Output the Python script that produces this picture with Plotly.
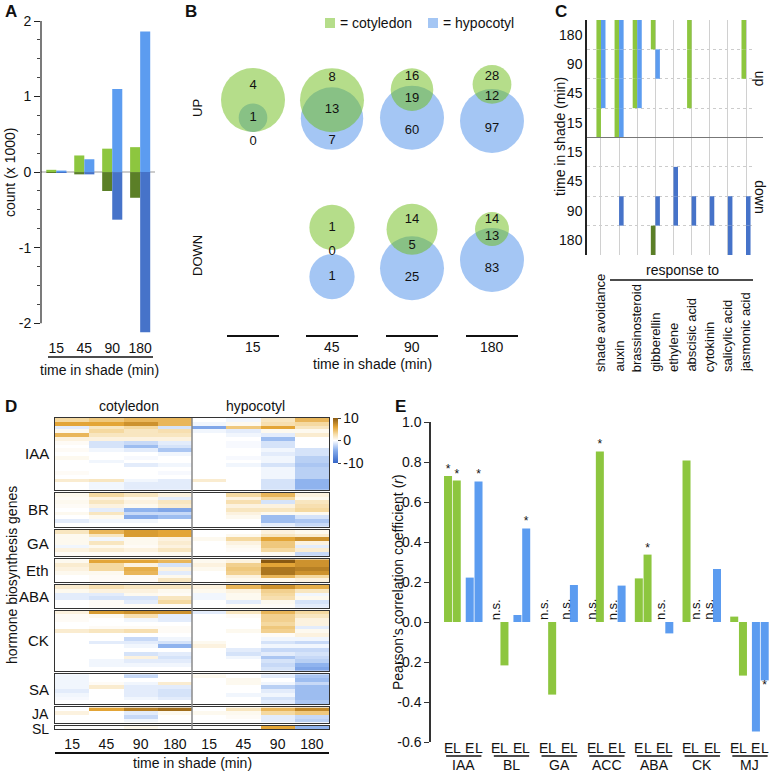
import math
import plotly.graph_objects as go

W, H = 770, 772
FONT = "Liberation Sans, Arial, Helvetica, sans-serif"

GREEN = "#8dc63f"
BLUE = "#5c9cf0"
DGREEN = "#5b7f27"
DBLUE = "#4673c9"

# ---- A: differentially expressed genes (x 1000)
a_times = ["15", "45", "90", "180"]
a_cot_up = [0.03, 0.22, 0.31, 0.33]
a_hyp_up = [0.02, 0.17, 1.10, 1.86]
a_cot_down = [-0.01, -0.03, -0.25, -0.34]
a_hyp_down = [-0.01, -0.03, -0.63, -2.12]

# ---- B: venn counts
b_times = ["15", "45", "90", "180"]
b_up_cot = [4, 8, 16, 28]
b_up_both = [1, 13, 19, 12]
b_up_hyp = [0, 7, 60, 97]
b_down_cot = [None, 1, 14, 14]
b_down_both = [None, 0, 5, 13]
b_down_hyp = [None, 1, 25, 83]

# ---- C: GO enrichment, flags for 15, 45, 90, 180 min
c_resp = ["shade avoidance", "auxin", "brassinosteroid", "gibberellin", "ethylene",
          "abscisic acid", "cytokinin", "salicylic acid", "jasmonic acid"]
c_times = ["15", "45", "90", "180"]
c_up_cot = [[1, 1, 1, 1], [1, 1, 1, 1], [0, 1, 1, 1], [0, 0, 0, 1], [0, 0, 0, 0],
            [0, 1, 1, 1], [0, 0, 0, 0], [0, 0, 0, 0], [0, 0, 1, 1]]
c_up_hyp = [[0, 1, 1, 1], [1, 1, 1, 1], [0, 1, 1, 1], [0, 0, 1, 0], [0, 0, 0, 0],
            [0, 0, 0, 0], [0, 0, 0, 0], [0, 0, 0, 0], [0, 0, 0, 0]]
c_down_cot = [[0, 0, 0, 0], [0, 0, 0, 0], [0, 0, 0, 0], [0, 0, 0, 1], [0, 0, 0, 0],
              [0, 0, 0, 0], [0, 0, 0, 0], [0, 0, 0, 0], [0, 0, 0, 0]]
c_down_hyp = [[0, 0, 0, 0], [0, 0, 1, 0], [0, 0, 0, 0], [0, 0, 1, 0], [0, 1, 1, 0],
              [0, 0, 1, 0], [0, 0, 1, 0], [0, 0, 1, 1], [0, 0, 1, 1]]

# ---- D: heatmap, columns cot 15/45/90/180, hyp 15/45/90/180
d_times = ["15", "45", "90", "180", "15", "45", "90", "180"]
hm_IAA = [
    [3, 4, 5, 5, 0, -0.5, 2, 5],
    [6, 6, 7, 5, -0.5, 0.5, 2.5, 3],
    [-1, 2, 3, -1.5, -5, 4, 6, 2],
    [0.5, 3, 2, 2.5, -0.5, -1, 0.5, 0.5],
    [5, 2, 2, 2, 0, -0.5, -1, 1.5],
    [1, 1, 1, 1, 0, 0, -3.5, 0],
    [0.3, -1.5, -2, -1, 0, -0.3, -1.5, 0],
    [0, -1.5, -3.5, -1.5, 0, -0.3, -1.5, 0],
    [0.3, -0.5, -1, -3, 0, 0, -0.5, -1.5],
    [0, 0, 0, -0.5, 0, 0, -1, -1.5],
    [0.5, 0, -0.3, 0, 0, -0.3, -0.5, -2.5],
    [0, -0.5, 0, 0, 0, 0, -0.5, -2.5],
    [0, 0, -1, -0.5, 0, -0.5, -1.5, -3],
    [0, 0, 0, 0, 0, 0, -0.5, -2.5],
    [0.3, 0, 0, -0.3, 0, 0, -0.5, -2.5],
    [0, 0, 0, 0, 0, 0, -0.5, -2.5],
    [1.5, 2, -0.5, -1, 1.5, 0, -1.5, -4],
    [0, -0.5, -1, -1, 0, 0, -1.5, -4],
    [0, -0.5, -1, -1, 0, 0, -1.5, -4],
]
hm_BR = [
    [0.5, 3, 2, 1, 0, 3, 5, 1],
    [0.3, 1, 0.5, -1, 0, 1, 3, 0.5],
    [0.5, 2, 1, 2, 0, 2.5, -1.5, 2],
    [0.3, 1, 0.5, 1.5, 0, 1, 1, 2.5],
    [0, -1, -4, -5, 0, 2, 2, 3],
    [0.5, 2, -2, -2, 0, 1, 0.5, 0.5],
    [0, 0.5, -4.5, -3.5, 0, 0.5, -3.5, -1.5],
    [-1, -0.5, -0.5, 0, 0, 0, -3.5, -3],
    [0, 0, 0, 0, 0, 0, -1, -2],
]
hm_GA = [
    [2, 5, 6.5, 6, 0, 0, 1, 0.5],
    [0.5, 2, 6.5, 6, 0, 0.5, 2, 1.5],
    [0.5, -0.5, 0.5, 1, 0.5, 3, 6, 7],
    [0.5, 2, 0.5, 1.5, 0, 1, 4, 1],
    [-0.5, 0.5, 0.3, 1, 0, 0.5, 4, -1],
    [1, 1.5, 1, 2, 0, 0.3, 3, 1.5],
    [0.3, 0.3, 0.3, 0.5, 0, 0, 0.5, -2],
]
hm_Eth = [
    [0.5, 6, 6, 5, 0.5, 1, 10, 7],
    [1.5, 3, 1, -1.5, 1, 3.5, 6, 7],
    [1, 3, 5.5, 1, 0.5, 4, 8.5, 8],
    [0.5, 0.5, 5, -1, 0, 3.5, 8.5, 7],
    [0, 0.3, 0.3, 0.5, 0, 1, 5, 3],
    [0, 0.3, 0.3, 2, 0, 0.5, 0.5, 1],
]
hm_ABA = [
    [1.5, 2.5, 2, 2, 1, 5, 7, 5.5],
    [0.5, 1, 1, 0.5, 0.5, 1, 3.5, 2],
    [-1, -1, 0.5, 0.3, -0.5, 0.5, 3, -0.5],
    [-1, -1.5, -1.5, 2, -0.5, 0.5, 2.5, 0.5],
    [0, 0.3, -1, 3, 0, -1, 0.5, -1.5],
    [0, 0.3, 0.3, 0.3, 0, 0.3, 0.3, -1],
]
hm_CK = [
    [1, 6.5, 7, 7, -1, 2, 5, 3],
    [0.3, 0.5, 2.5, -1, 0, 0.3, 3.5, 2],
    [0.3, 0, -0.5, -1, 0, 0, 3.5, 1],
    [0, 0, 0, 0, 0, 0, 3, 1],
    [0, 0.3, 0.3, 0.3, 0, 0, 4, -1],
    [1.5, 2, 2.5, 0.3, 0, 0.5, 3.5, 0.5],
    [0, 0, 0, 0, 0, 0, 0.3, 1],
    [0, 0, -2, -0.5, 0, 0, -0.5, -0.5],
    [0, -1, -1, -1.5, 0.5, 0, -1.5, -2],
    [0, 0, -0.5, -4, 1, 0, -0.5, -0.5],
    [0, 0, 0, 0, 0, -1, -2, -2],
    [0, 0, -1.5, -1, 0, -1.5, -1, -1.5],
    [0, 0, 1, -1.5, 0, -0.5, -3, -2],
    [0, -0.5, -1, -1, 0, 0, -1.5, -2.5],
    [0, -0.5, -0.5, -0.5, 0, 0, -2, -4],
    [0, 0, 0, 0, 0, 0, -1.5, -5],
]
hm_SA = [
    [-0.5, 0, -2, 0, 0.5, 0, -1, -3],
    [-0.5, 0, 0, 0, 0, 0.5, 0, -3.5],
    [-0.5, 0.3, -0.5, 1.5, 0, 0.5, -0.5, -2],
    [-0.5, 1.5, -1, -1, 0, 0, -2.5, -3.5],
    [-1, 0, -1, -1.5, 0, 0, -1, -3.5],
    [-0.5, 0, -1, -1.5, 0, -0.5, -0.5, -3.5],
    [-0.3, 0, -0.5, -1, 0, 0, -1.5, -3.5],
    [0, 0, 0, 0, 0, 0, -1, -3],
]
hm_JA = [
    [0, 6, 8, 9, 0, 2, 5, 7.5],
    [1, 0, -1, 0.5, 0.5, 0.5, 3, 4],
    [0, 0, -2, 0, 0, 0.3, -1, -2],
    [0, 0, -0.5, 0, 0, 0, -1, -2.5],
]
hm_SL = [
    [0, 0, 0.5, 0, 0, 0, 6, -4],
]

# ---- E: Pearson correlation (None = n.s.)
e_groups = ["IAA", "BL", "GA", "ACC", "ABA", "CK", "MJ"]
e_cot_early = [0.73, None, None, None, 0.218, 0.807, 0.027]
e_cot_late = [0.707, -0.217, -0.363, 0.853, 0.337, None, -0.268]
e_hyp_early = [0.222, 0.035, None, None, None, None, -0.547]
e_hyp_late = [0.703, 0.468, 0.185, 0.182, -0.057, 0.265, -0.292]
e_cot_early_sig = [1, 0, 0, 0, 0, 0, 0]
e_cot_late_sig = [1, 0, 0, 1, 1, 0, 0]
e_hyp_early_sig = [0, 0, 0, 0, 0, 0, 0]
e_hyp_late_sig = [1, 1, 0, 0, 0, 0, 1]


def fx(p):
    return p / W


def fy(p):
    return 1 - p / H


fig = go.Figure()
shapes = []
ann = []


def text(x, y, s, size=14, xref="paper", yref="paper", **kw):
    d = dict(x=x, y=y, text=s, xref=xref, yref=yref, showarrow=False,
             xanchor="center", yanchor="middle",
             font=dict(size=size, color="#111", family=FONT))
    d.update(kw)
    ann.append(d)


def line(x0, y0, x1, y1, color="#111", width=1.5, xref="paper", yref="paper", **kw):
    shapes.append(dict(type="line", x0=x0, y0=y0, x1=x1, y1=y1, xref=xref, yref=yref,
                       line=dict(color=color, width=width), **kw))


def hidden(**kw):
    d = dict(showgrid=False, zeroline=False, showline=False, showticklabels=False, ticks="")
    d.update(kw)
    return d


layout = dict(width=W, height=H, margin=dict(l=0, r=0, t=0, b=0, autoexpand=False),
              paper_bgcolor="white", plot_bgcolor="rgba(0,0,0,0)",
              font=dict(family=FONT, size=14, color="#111"),
              showlegend=False, barmode="overlay")

# ================= A
xa = list(range(len(a_times)))
for vals, col, off in [(a_cot_up, GREEN, -0.18), (a_cot_down, DGREEN, -0.18),
                       (a_hyp_up, BLUE, 0.18), (a_hyp_down, DBLUE, 0.18)]:
    fig.add_trace(go.Bar(x=[i + off for i in xa], y=vals, width=0.36,
                         marker=dict(color=col, line_width=0), xaxis="x", yaxis="y"))
layout["xaxis"] = hidden(domain=[fx(41), fx(160)], range=[-0.55, 3.71], anchor="y",
                         showticklabels=True, tickvals=xa, ticktext=a_times,
                         ticklabelstandoff=5)
layout["yaxis"] = dict(domain=[fy(333), fy(21)], range=[-2.13, 2.0], anchor="x",
                       showgrid=False, zeroline=False, showline=False,
                       tickvals=[-2, -1, 0, 1, 2], ticktext=["-2", "-1", "0", "1", "2"],
                       ticks="outside", ticklen=6, tickcolor="#222", tickwidth=1,
                       minor=dict(dtick=0.25, tick0=0, ticks="outside", ticklen=3,
                                  tickcolor="#444"))
line(fx(41), -2, fx(41), 2, yref="y", color="#222", width=1.2)
line(fx(41), 0, fx(155), 0, yref="y", color="#cccccc", width=2, layer="below")
line(fx(48), fy(357), fx(153), fy(357), width=1.5)
text(fx(100), fy(370), "time in shade (min)")
text(fx(10), fy(172), "count (x 1000)", textangle=-90)
text(fx(3), fy(11), "<b>A</b>", size=17, xanchor="left")

# ================= B
def lens_area(r1, r2, d):
    if d >= r1 + r2:
        return 0.0
    if d <= abs(r1 - r2):
        return math.pi * min(r1, r2) ** 2
    a1 = r1 * r1 * math.acos((d * d + r1 * r1 - r2 * r2) / (2 * d * r1))
    a2 = r2 * r2 * math.acos((d * d + r2 * r2 - r1 * r1) / (2 * d * r2))
    a3 = 0.5 * math.sqrt((-d + r1 + r2) * (d + r1 - r2) * (d - r1 + r2) * (d + r1 + r2))
    return a1 + a2 - a3


def venn(cy, only1, both, only2):
    n1, n2 = only1 + both, only2 + both
    nmax = max(n1, n2)
    rmax = 32 * min(1.0, math.sqrt((only1 + both + only2) / 4))
    r1 = rmax * math.sqrt(n1 / nmax)
    r2 = rmax * math.sqrt(n2 / nmax)
    target = math.pi * rmax ** 2 * both / nmax
    if both == 0:
        d = r1 + r2 + 4
    elif both >= min(n1, n2):
        d = abs(r1 - r2)
    else:
        lo, hi = abs(r1 - r2), r1 + r2
        for _ in range(60):
            mid = (lo + hi) / 2
            if lens_area(r1, r2, mid) > target:
                lo = mid
            else:
                hi = mid
        d = (lo + hi) / 2
    inside = d + r2 <= r1 + 1e-9
    top = min(-r1, d - r2)
    bottom = max(r1, d + r2) + (18 if inside else 0)
    s = cy - (top + bottom) / 2
    yg, yb = s, s + d
    if both == 0:
        labels = [(yg, only1), ((yg + r1 + yb - r2) / 2, both), (yb, only2)]
    elif inside:
        labels = [((yg - r1 + yb - r2) / 2, only1), (yb, both), (yg + r1 + 10, only2)]
    else:
        labels = [((yg - r1 + yb - r2) / 2, only1), ((yb - r2 + yg + r1) / 2, both),
                  ((yg + r1 + yb + r2) / 2, only2)]
    return r1, r2, yg, yb, labels


b_cx = [253, 332, 412, 492]
tx, ty, tt = [], [], []
for row_cy, cots, boths, hyps in [(109, b_up_cot, b_up_both, b_up_hyp),
                                  (252, b_down_cot, b_down_both, b_down_hyp)]:
    for i, cx in enumerate(b_cx):
        if cots[i] is None:
            continue
        r1, r2, yg, yb, labels = venn(row_cy, cots[i], boths[i], hyps[i])
        shapes.append(dict(type="circle", xref="x2", yref="y2", x0=cx - r2, x1=cx + r2,
                           y0=yb - r2, y1=yb + r2, fillcolor="#a4c6f4",
                           line=dict(width=0), layer="below"))
        shapes.append(dict(type="circle", xref="x2", yref="y2", x0=cx - r1, x1=cx + r1,
                           y0=yg - r1, y1=yg + r1, fillcolor="rgba(107,187,21,0.5)",
                           line=dict(width=0), layer="below"))
        for yy, v in labels:
            tx.append(cx)
            ty.append(yy)
            tt.append(str(v))
fig.add_trace(go.Scatter(x=tx, y=ty, text=tt, mode="text", xaxis="x2", yaxis="y2",
                         textfont=dict(size=13, color="#111", family=FONT),
                         hoverinfo="skip"))
layout["xaxis2"] = hidden(domain=[fx(180), fx(560)], range=[180, 560], anchor="y2")
layout["yaxis2"] = hidden(domain=[fy(390), fy(0)], range=[390, 0], anchor="x2")
for cx, t in zip(b_cx, b_times):
    line(fx(cx - 26), fy(336), fx(cx + 26), fy(336), width=2)
    text(fx(cx), fy(347), t)
text(fx(372), fy(364), "time in shade (min)")
text(fx(197), fy(108), "UP", size=13, textangle=-90)
text(fx(197), fy(255), "DOWN", size=13, textangle=-90)
shapes.append(dict(type="rect", xref="paper", yref="paper", x0=fx(325), x1=fx(335),
                   y0=fy(28), y1=fy(18), fillcolor="#b5dd8a", line=dict(width=0)))
shapes.append(dict(type="rect", xref="paper", yref="paper", x0=fx(428), x1=fx(438),
                   y0=fy(28), y1=fy(18), fillcolor="#a4c6f4", line=dict(width=0)))
text(fx(338), fy(23), "= cotyledon", xanchor="left")
text(fx(441), fy(23), "= hypocotyl", xanchor="left")
text(fx(183), fy(11), "<b>B</b>", size=17, xanchor="left")

# ================= C
for mat, col, off, up in [(c_up_cot, GREEN, -0.125, True), (c_up_hyp, BLUE, 0.125, True),
                          (c_down_cot, DGREEN, -0.125, False), (c_down_hyp, DBLUE, 0.125, False)]:
    xs, bs = [], []
    for ci, flags in enumerate(mat):
        for ti, f in enumerate(flags):
            if f:
                xs.append(ci + off)
                bs.append(3 - ti if up else 4 + ti)
    fig.add_trace(go.Bar(x=xs, y=[1] * len(xs), base=bs, width=0.25,
                         marker=dict(color=col, line_width=0), xaxis="x3", yaxis="y3"))
row_labels = c_times[::-1] + c_times
layout["xaxis3"] = dict(domain=[fx(587), fx(754)], range=[-0.77, 8.44], anchor="y3",
                        showgrid=True, gridcolor="#d0d0d0", gridwidth=1,
                        tickvals=list(range(len(c_resp))), showticklabels=False,
                        ticks="", zeroline=False, showline=False)
layout["yaxis3"] = dict(domain=[fy(255), fy(20)], range=[8, 0], anchor="x3",
                        showline=True, linecolor="#222", linewidth=1.5, showgrid=False,
                        zeroline=False, ticks="",
                        tickvals=[i + 0.5 for i in range(8)], ticktext=row_labels,
                        minor=dict(tickvals=[0, 1, 2, 3, 5, 6, 7, 8], showgrid=True,
                                   gridcolor="#cccccc", griddash="dot", ticks=""))
line(fx(587), 4, fx(763), 4, yref="y3", color="#777", width=1)
text(fx(760), 2, "up", yref="y3", textangle=90)
text(fx(760), 6, "down", yref="y3", textangle=90)
text(fx(560), fy(137), "time in shade (min)", textangle=-90)
text(fx(682), fy(270), "response to")
line(fx(610), fy(280), fx(753), fy(280), width=1.5)
for ci, name in enumerate(c_resp):
    text(ci, fy(374), name, xref="x3", textangle=-90, yanchor="bottom", size=13)
text(fx(553), fy(11), "<b>C</b>", size=17, xanchor="left")

# ================= D
CS = [[0.0, "#3465c8"], [0.3, "#8fb3ee"], [0.5, "#ffffff"], [0.65, "#f5d9a0"],
      [0.8, "#e3a537"], [1.0, "#8a5a12"]]
d_groups = [("IAA", hm_IAA), ("BR", hm_BR), ("GA", hm_GA), ("Eth", hm_Eth),
            ("ABA", hm_ABA), ("CK", hm_CK), ("SA", hm_SA), ("JA", hm_JA), ("SL", hm_SL)]
top = 418.0
rh = 3.78
for gi, (name, z) in enumerate(d_groups):
    n = len(z)
    y0, y1 = top, top + n * rh
    k = gi + 4
    last = gi == len(d_groups) - 1
    layout[f"xaxis{k}"] = dict(domain=[fx(55), fx(329)], range=[-0.5, 7.5], anchor=f"y{k}",
                               showgrid=False, zeroline=False, showline=True, mirror=True,
                               linecolor="#333", linewidth=1, ticks="",
                               showticklabels=last, tickvals=list(range(8)),
                               ticktext=d_times, ticklabelstandoff=2)
    layout[f"yaxis{k}"] = dict(domain=[fy(y1), fy(y0)], range=[n - 0.5, -0.5],
                               anchor=f"x{k}", showgrid=False, zeroline=False,
                               showline=True, mirror=True, linecolor="#333", linewidth=1,
                               ticks="", showticklabels=False)
    fig.add_trace(go.Heatmap(
        z=z, zmin=-10, zmax=10, colorscale=CS, showscale=(gi == 0),
        xaxis=f"x{k}", yaxis=f"y{k}", hoverinfo="skip",
        colorbar=dict(x=fx(333), xanchor="left", y=fy(418), yanchor="top",
                      len=45 / H, lenmode="fraction", thickness=5, thicknessmode="pixels",
                      outlinewidth=0, xpad=0, ypad=0, tickvals=[-10, 0, 10],
                      ticktext=["-10", "0", "10"], ticks="outside", ticklen=3,
                      tickfont=dict(size=14, family=FONT, color="#111"))))
    # the two thin bottom groups sit close together: nudge and shrink their labels
    small = name in ("JA", "SL")
    label_y = (y0 + y1) / 2 + (2 if last else (-1 if small else 0))
    text(fx(51), fy(label_y), name, size=14 if small else 15, xanchor="right")
    top = y1 + 3
line(fx(192), fy(418), fx(192), fy(top - 3), color="#8a8a8a", width=1.5)
line(fx(55), fy(753), fx(329), fy(753), width=2)
text(fx(192), fy(763), "time in shade (min)")
text(fx(129), fy(406), "cotyledon")
text(fx(255), fy(406), "hypocotyl")
text(fx(12), fy(575), "hormone biosynthesis genes", textangle=-90)
text(fx(3), fy(406), "<b>D</b>", size=17, xanchor="left")

# ================= E
offs = [-0.32, -0.137, 0.135, 0.319]
eg = list(range(len(e_groups)))
for vals, sig, col, off in [(e_cot_early, e_cot_early_sig, GREEN, offs[0]),
                            (e_cot_late, e_cot_late_sig, GREEN, offs[1]),
                            (e_hyp_early, e_hyp_early_sig, BLUE, offs[2]),
                            (e_hyp_late, e_hyp_late_sig, BLUE, offs[3])]:
    fig.add_trace(go.Bar(x=[g + off for g in eg], y=vals, width=0.168,
                         marker=dict(color=col, line_width=0), xaxis="x13", yaxis="y13"))
    for g in eg:
        v = vals[g]
        if v is None:
            text(g + off, 0.0, "n.s.", xref="x13", yref="y13", textangle=-90,
                 yanchor="bottom", size=13)
        elif sig[g]:
            fig.add_trace(go.Scatter(x=[g + off], y=[v], text=["*"], mode="text",
                                     textposition="top center" if v > 0 else "bottom center",
                                     textfont=dict(size=12, color="#111", family=FONT),
                                     xaxis="x13", yaxis="y13", hoverinfo="skip"))
    for g in eg:
        text(g + off, fy(748), "E" if off in (offs[0], offs[2]) else "L", xref="x13")
for g, name in zip(eg, e_groups):
    line(g - 0.36, fy(756), g + 0.38, fy(756), xref="x13", width=1.5)
    text(g + 0.01, fy(765), name, xref="x13")
layout["xaxis13"] = hidden(domain=[fx(431), fx(770)], range=[-0.677, 6.43], anchor="y13")
e_ticks = [-0.6, -0.4, -0.2, 0.0, 0.2, 0.4, 0.6, 0.8, 1.0]
layout["yaxis13"] = dict(domain=[fy(742), fy(422)], range=[-0.6, 1.0], anchor="x13",
                         showgrid=False, zeroline=False, showline=True, linecolor="#333",
                         linewidth=1.5, ticks="outside", ticklen=5, tickcolor="#333",
                         tickvals=e_ticks, ticktext=["%.1f" % t for t in e_ticks])
text(fx(398), fy(582), "Pearson's correlation coefficient (<i>r</i>)", textangle=-90)
text(fx(393), fy(406), "<b>E</b>", size=17, xanchor="left")

layout["shapes"] = shapes
layout["annotations"] = ann
fig.update_layout(**layout)
# the page's default body margin would push the 770x772 figure off the window
fig.write_html("out.html", config={"displayModeBar": False},
               post_script="document.body.style.margin='0';document.body.style.overflow='hidden';")
